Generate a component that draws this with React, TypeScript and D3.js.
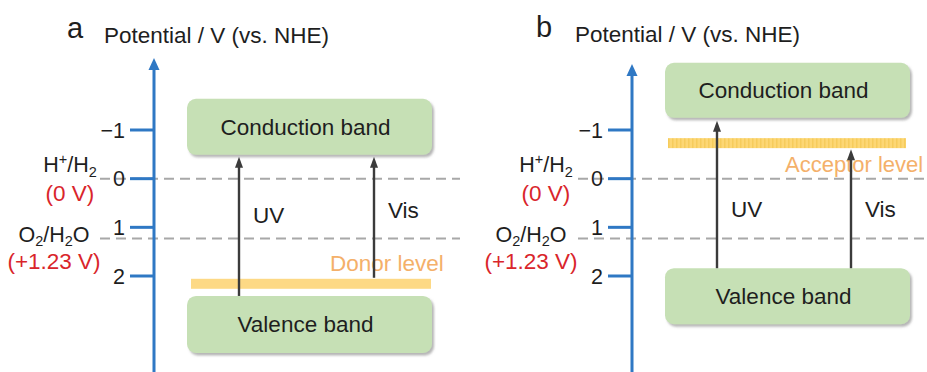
import React from "react";
import * as d3 from "d3";

// ---- data ----
const panelLetters = ["a", "b"];
const axisTitle = "Potential / V (vs. NHE)";
const potentialTicks = [-1, 0, 1, 2];
const tickLabels = ["\u22121", "0", "1", "2"];
const redoxPotentials = [0, 1.23];
const redoxValueLabels = ["(0 V)", "(+1.23 V)"];
// conduction / valence band potential ranges per panel [top, bottom]
const conductionBand = [[-1.64, -0.49], [-2.38, -1.25]];
const valenceBand = [[2.41, 3.58], [1.84, 2.99]];
const impurityLevel = [2.16, -0.73];
const impurityNames = ["Donor level", "Acceptor level"];
const excitationNames = ["UV", "Vis"];

// ---- layout ----
const W = 927, H = 372;
const FONT = "'Liberation Sans', Arial, Helvetica, sans-serif";
const axisXs = [154, 632];
const panelRight = [460, 927];
const arrowTipY = [58, 64];
const y = d3.scaleLinear().domain([-1, 2]).range([130, 276]);

const BLUE = "#2f78c4";
const GREEN = "#c6e0b5";
const YELLOW = "#fdd985";
const ORANGE = "#f4b06a";
const RED = "#d9252b";
const DARK = "#1e1e1e";
const ARROW = "#3b3b3b";
const FS = 22.5;

function Arrow({ x, y1, y2 }: { x: number; y1: number; y2: number }) {
  return (
    <g>
      <line x1={x} x2={x} y1={y1} y2={y2 + 8} stroke={ARROW} strokeWidth={2.4} />
      <path d={`M${x},${y2} L${x - 4},${y2 + 11} L${x + 4},${y2 + 11} Z`} fill={ARROW} />
    </g>
  );
}

function Panel({ i }: { i: number }) {
  const ax = axisXs[i];
  const bx0 = ax + 33, bx1 = ax + 278;
  const cb = conductionBand[i], vb = valenceBand[i];
  const lvl = impurityLevel[i];
  const lvlTop = y(lvl) - 5, lvlBot = y(lvl) + 5;
  const uvX = ax + 85, visX = ax + 220 - i;
  const uvBottom = y(vb[0]);
  const visBottom = i === 0 ? lvlTop - 1 : y(vb[0]);
  const uvTip = y(cb[1]) + (i === 0 ? 2 : 3);
  const visTip = i === 0 ? y(cb[1]) + 2 : lvlBot + 1;
  const leftA = i === 0 ? ax - 84 : ax - 86;
  const leftB = i === 0 ? ax - 100 : ax - 101;
  const subSize = 14.5;
  return (
    <g>
      {/* panel letter and title */}
      <text x={i === 0 ? 67 : 536} y={i === 0 ? 38 : 37} fontSize={29} fill={DARK}>{panelLetters[i]}</text>
      <text x={i === 0 ? 104 : 575} y={i === 0 ? 43 : 42} fontSize={FS} fill={DARK}>{axisTitle}</text>

      {/* redox dashed lines */}
      {redoxPotentials.map((v, k) => (
        <line key={k} x1={ax - 54} x2={panelRight[i]} y1={y(v)} y2={y(v)}
          stroke="#a8a8a8" strokeWidth={2} strokeDasharray="10 6" />
      ))}

      {/* axis */}
      <line x1={ax} x2={ax} y1={arrowTipY[i] + 8} y2={H} stroke={BLUE} strokeWidth={3} />
      <path d={`M${ax},${arrowTipY[i]} L${ax - 5.5},${arrowTipY[i] + 12} L${ax + 5.5},${arrowTipY[i] + 12} Z`} fill={BLUE} />
      {potentialTicks.map((t, k) => (
        <g key={t}>
          <line x1={ax - 24} x2={ax} y1={y(t)} y2={y(t)} stroke={BLUE} strokeWidth={3} />
          <text x={ax - 29} y={y(t) + 7.5} fontSize={21.5} textAnchor="end" fill={DARK}>{tickLabels[k]}</text>
        </g>
      ))}

      {/* redox labels */}
      <text x={leftA} y={y(redoxPotentials[0]) - 7} fontSize={21.5} textAnchor="middle" fill={DARK}>
        H<tspan fontSize={subSize} dy={-8}>+</tspan><tspan dy={8}>/H</tspan><tspan fontSize={subSize} dy={5}>2</tspan>
      </text>
      <text x={leftA} y={y(redoxPotentials[0]) + 22} fontSize={FS} textAnchor="middle" fill={RED}>{redoxValueLabels[0]}</text>
      <text x={leftB} y={y(redoxPotentials[1]) + 3} fontSize={21.5} textAnchor="middle" fill={DARK}>
        O<tspan fontSize={subSize} dy={4}>2</tspan><tspan dy={-4}>/H</tspan><tspan fontSize={subSize} dy={4}>2</tspan><tspan dy={-4}>O</tspan>
      </text>
      <text x={leftB} y={y(redoxPotentials[1]) + 30} fontSize={FS} textAnchor="middle" fill={RED}>{redoxValueLabels[1]}</text>

      {/* bands */}
      <rect x={bx0} y={y(cb[0])} width={bx1 - bx0} height={y(cb[1]) - y(cb[0])} rx={9}
        fill={GREEN} filter="url(#shadow)" />
      <text x={(bx0 + bx1) / 2 - 4} y={(y(cb[0]) + y(cb[1])) / 2 + 8} fontSize={FS} textAnchor="middle" fill={DARK}>Conduction band</text>
      <rect x={bx0} y={y(vb[0])} width={bx1 - bx0} height={y(vb[1]) - y(vb[0])} rx={9}
        fill={GREEN} filter="url(#shadow)" />
      <text x={(bx0 + bx1) / 2 - 4} y={(y(vb[0]) + y(vb[1])) / 2 + 8} fontSize={FS} textAnchor="middle" fill={DARK}>Valence band</text>

      {/* impurity level */}
      <rect x={bx0 + (i === 0 ? 4 : 3)} y={lvlTop} width={bx1 - bx0 - (i === 0 ? 5 : 7)} height={lvlBot - lvlTop}
        fill={i === 0 ? YELLOW : "url(#stripes)"} />
      <text x={i === 0 ? ax + 176 : ax + 153} y={i === 0 ? lvlTop - 8 : lvlBot + 24} fontSize={i === 0 ? FS : 22} fill={ORANGE}>{impurityNames[i]}</text>

      {/* excitations */}
      <Arrow x={uvX} y1={uvBottom} y2={uvTip} />
      <Arrow x={visX} y1={visBottom} y2={visTip} />
      <text x={uvX + 14} y={i === 0 ? 223 : 217} fontSize={FS} fill={DARK}>{excitationNames[0]}</text>
      <text x={visX + 14} y={i === 0 ? 218 : 217} fontSize={FS} fill={DARK}>{excitationNames[1]}</text>
    </g>
  );
}

export default function App() {
  return (
    <svg width={W} height={H} viewBox={`0 0 ${W} ${H}`}
      style={{ position: "absolute", left: 0, top: 0, fontFamily: FONT, background: "#fff" }}>
      <defs>
        <filter id="shadow" x="-5%" y="-10%" width="112%" height="130%">
          <feDropShadow dx={2} dy={2.5} stdDeviation={1.3} floodColor="#7a7a7a" floodOpacity={0.55} />
        </filter>
        <pattern id="stripes" width={4} height={10} patternUnits="userSpaceOnUse">
          <rect width={4} height={10} fill="#fdd774" />
          <rect width={1.5} height={10} fill="#f6cc5c" />
        </pattern>
      </defs>
      <rect width={W} height={H} fill="#fff" />
      {panelLetters.map((_, i) => <Panel key={i} i={i} />)}
    </svg>
  );
}
